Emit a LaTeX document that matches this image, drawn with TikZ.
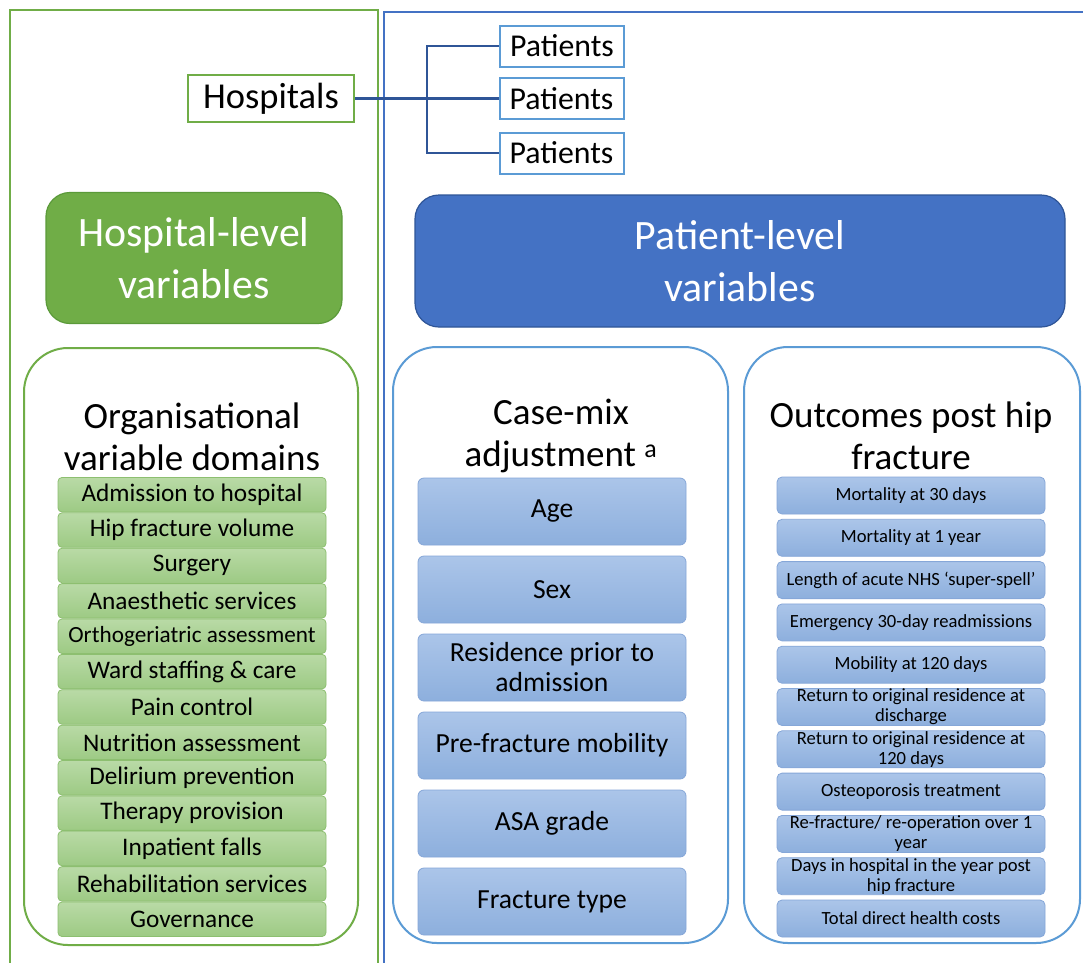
\documentclass[tikz,border=0pt]{standalone}
\usepackage{fontspec}
\setmainfont{Carlito}
\definecolor{gframe}{HTML}{70AD47}
\definecolor{gdark}{HTML}{5B9A3A}
\definecolor{bframe}{HTML}{4472C4}
\definecolor{bdark}{HTML}{2F5597}
\definecolor{blight}{HTML}{5B9BD5}
\definecolor{gitemtop}{HTML}{B9DAA6}
\definecolor{gitembot}{HTML}{9DCA84}
\definecolor{gitemline}{HTML}{8DBF70}
\definecolor{bitemtop}{HTML}{ABC5E9}
\definecolor{bitembot}{HTML}{8DAFDD}
\definecolor{bitemline}{HTML}{86A7D8}
\definecolor{conncol}{HTML}{2F5597}
\begin{document}
\begin{tikzpicture}[x=1pt,y=-1pt,
  hbox/.style={draw=gframe,line width=2pt,fill=white,inner sep=0pt,font=\fontsize{36.5}{40}\selectfont},
  pbox/.style={draw=blight,line width=2pt,fill=white,inner sep=0pt,minimum width=124pt,minimum height=41pt,font=\fontsize{31.8}{36}\selectfont},
  conn/.style={draw=conncol,line width=2.3pt},
  ghead/.style={draw=gdark,line width=1.2pt,fill=gframe,rounded corners=24pt,inner sep=0pt,text=white,align=center,font=\fontsize{41.8}{52}\selectfont},
  bhead/.style={draw=bdark,line width=1.2pt,fill=bframe,rounded corners=24pt,inner sep=0pt,text=white,align=center,font=\fontsize{41.8}{52}\selectfont},
  gcont/.style={draw=gframe,line width=2pt,fill=white,rounded corners=44pt,inner sep=0pt},
  bcont/.style={draw=blight,line width=2pt,fill=white,rounded corners=44pt,inner sep=0pt},
  ttl/.style={align=center,inner sep=0pt,font=\fontsize{37}{42}\selectfont},
  gitem/.style={draw=gitemline,line width=0.8pt,top color=gitemtop,bottom color=gitembot,rounded corners=4pt,inner sep=0pt,minimum width=268pt,minimum height=34.5pt,font=\fontsize{25.3}{28}\selectfont},
  citem/.style={draw=bitemline,line width=0.8pt,top color=bitemtop,bottom color=bitembot,rounded corners=6pt,inner sep=0pt,minimum width=268pt,minimum height=67pt,align=center,font=\fontsize{27.6}{30}\selectfont},
  oitem/.style={draw=bitemline,line width=0.8pt,top color=bitemtop,bottom color=bitembot,rounded corners=5pt,inner sep=0pt,minimum width=268pt,minimum height=37pt,align=center,font=\fontsize{18.6}{20}\selectfont}
]
\useasboundingbox (0,0) rectangle (1083,962);
\fill[white] (0,0) rectangle (1083,962);
\begin{scope}
  \clip (0,0) rectangle (1083,962);
  \draw[draw=gframe,line width=2pt] (10,10) rectangle (378,1000);
  \draw[draw=bframe,line width=2pt] (384,12) rectangle (1120,1000);
\end{scope}

% top: hospitals and patients
\node[hbox,minimum width=166pt,minimum height=47pt] (hosp) at (271,98.5) {Hospitals};
\node[pbox] (p1) at (562,46) {Patients};
\node[pbox] (p2) at (561.5,98.5) {Patients};
\node[pbox] (p3) at (561.5,153) {Patients};
\coordinate (jn) at (427,98.5);
\draw[conn] (hosp.east) -- (jn);
\draw[conn] (jn) -- (p2.west);
\draw[conn] (jn) |- (p1.west);
\draw[conn] (jn) |- (p3.west);

% headers
\node[ghead,minimum width=296pt,minimum height=131pt] (hlv) at (194,258) {Hospital-level\\variables};
\node[bhead,minimum width=650pt,minimum height=132pt] (plv) at (740,261) {Patient-level\\variables};

% containers
\node[gcont,minimum width=334pt,minimum height=597pt] (org) at (191,646.5) {};
\node[bcont,minimum width=335pt,minimum height=596pt] (cm) at (560.5,645) {};
\node[bcont,minimum width=336pt,minimum height=596pt] (oc) at (912,645) {};

% titles
\node[ttl] (orgT) at (192,437) {Organisational\\variable domains};
\node[ttl] (cmT) at (561,436) {Case-mix\\adjustment \textsuperscript{a}};
\node[ttl] (ocT) at (911,436) {Outcomes post hip\\fracture};

% organisational items
\foreach \t [count=\i from 0] in {Admission to hospital,Hip fracture volume,Surgery,Anaesthetic services,{\fontsize{23.2}{28}\selectfont Orthogeriatric assessment},Ward staffing \& care,Pain control,Nutrition assessment,Delirium prevention,Therapy provision,Inpatient falls,Rehabilitation services,Governance}
  \node[gitem] (g\i) at (192,{494.7+35.38*\i}) {\t};

% case-mix items
\foreach \t [count=\i from 0] in {Age,Sex,{Residence prior to\\admission},Pre-fracture mobility,ASA grade,Fracture type}
  \node[citem] (c\i) at (552,{511.5+78*\i}) {\t};

% outcome items
\foreach \t [count=\i from 0] in {Mortality at 30 days,Mortality at 1 year,Length of acute NHS ‘super-spell’,Emergency 30-day readmissions,Mobility at 120 days,{Return to original residence at\\discharge},{Return to original residence at\\120 days},Osteoporosis treatment,{Re-fracture/ re-operation over 1\\year},{Days in hospital in the year post\\hip fracture},Total direct health costs}
  \node[oitem] (o\i) at (911,{495.5+42.3*\i}) {\t};
\end{tikzpicture}
\end{document}
